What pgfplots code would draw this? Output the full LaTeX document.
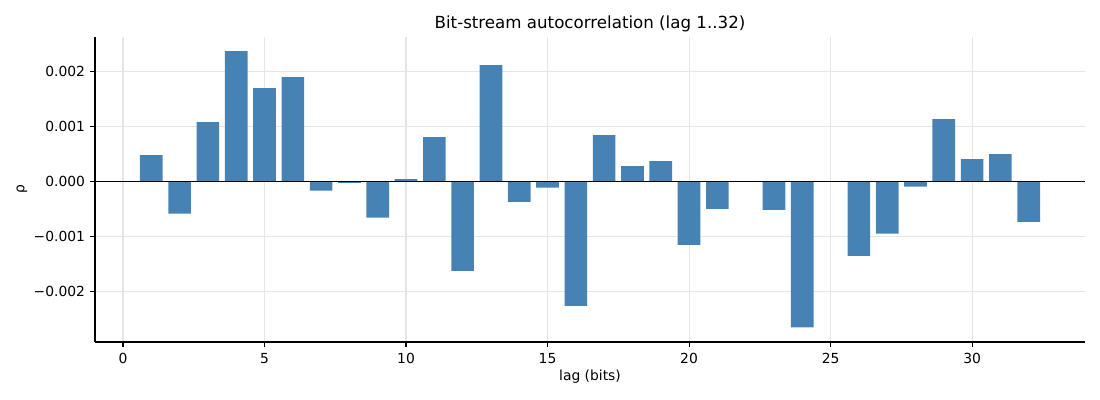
\documentclass[border=0pt]{standalone}
\usepackage{fontspec}
\setmainfont{DejaVu Sans}
\usepackage{pgfplots}
\pgfplotsset{compat=1.18}
\definecolor{steel}{HTML}{4682B4}
\definecolor{gridc}{HTML}{E6E6E6}
\begin{document}
\fontsize{10.4}{12}\selectfont
\begin{tikzpicture}[x=0.75pt,y=0.75pt]
\useasboundingbox (-95,-58) rectangle (1005,342);
\begin{axis}[
  at={(0,0)}, anchor=south west,
  scale only axis, width=742.5pt, height=228.75pt,
  xmin=-0.99, xmax=33.99, ymin=-0.002927, ymax=0.002629,
  axis x line*=bottom, axis y line*=left,
  axis line style={line width=0.83pt, -},
  xtick={0,5,10,15,20,25,30},
  xticklabels={0,5,10,15,20,25,30},
  ytick={-0.002,-0.001,0,0.001,0.002},
  yticklabels={−0.002,−0.001,0.000,0.001,0.002},
  scaled y ticks=false,
  tick align=outside, major tick length=3.65pt,
  tick style={line width=0.83pt, black},
  grid=major, major grid style={gridc, line width=0.83pt},
  xticklabel style={font=\fontsize{10.4}{12}\selectfont, inner sep=0pt, yshift=-4.8pt},
  yticklabel style={font=\fontsize{10.4}{12}\selectfont, inner sep=0pt, xshift=-3.65pt},
  title={Bit-stream autocorrelation (lag 1..32)},
  title style={font=\fontsize{12.5}{14}\selectfont, at={(axis description cs:0.5,1.0165)}, anchor=center},
  xlabel={lag (bits)},
  xlabel style={at={(axis description cs:0.5,-0.115)}, anchor=center},
  ylabel={ρ},
  ylabel style={at={(axis description cs:-0.0737,0.5)}, anchor=center, rotate=0},
]
\addplot[ybar, bar width=0.8, bar shift=0pt, fill=steel, draw=none] coordinates {
(1,0.000479) (2,-0.000590) (3,0.001079) (4,0.002370) (5,0.001697) (6,0.001897)
(7,-0.000170) (8,-0.000030) (9,-0.000660) (10,0.000042) (11,0.000806) (12,-0.001630)
(13,0.002115) (14,-0.000376) (15,-0.000115) (16,-0.002267) (17,0.000842) (18,0.000279)
(19,0.000370) (20,-0.001158) (21,-0.000503) (22,0) (23,-0.000521) (24,-0.002660)
(25,0) (26,-0.001358) (27,-0.000952) (28,-0.000097) (29,0.001133) (30,0.000406)
(31,0.000497) (32,-0.000739)
};
\addplot[black, line width=0.83pt, sharp plot, no marks] coordinates {(-0.99,0) (33.99,0)};
\end{axis}
\end{tikzpicture}
\end{document}
